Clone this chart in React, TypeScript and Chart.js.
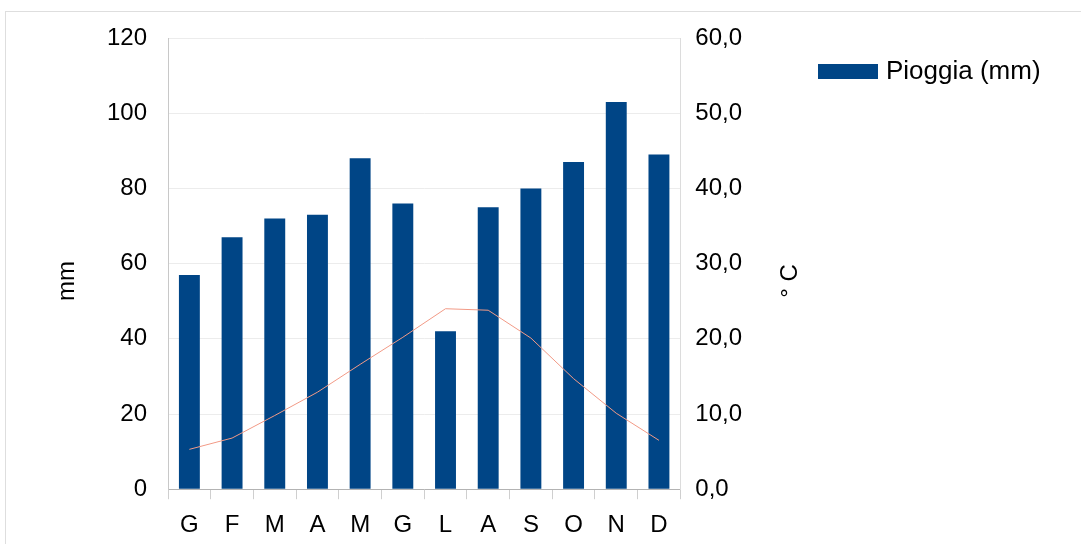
import React, { useEffect, useRef } from "react";
import { Chart, registerables } from "chart.js";

Chart.register(...registerables);

const months = ["G", "F", "M", "A", "M", "G", "L", "A", "S", "O", "N", "D"];
const rainMm = [57, 67, 72, 73, 88, 76, 42, 75, 80, 87, 103, 89];
const tempC = [5.3, 6.8, 9.8, 12.9, 16.6, 20.2, 24.0, 23.8, 20.1, 14.7, 10.1, 6.5];
const rainLabel = "Pioggia (mm)";
const tempLabel = "Temperatura (°C)";
const leftTitle = "mm";
const rightTitle = "° C";

const FONT = "'Liberation Sans', Arial, sans-serif";
const BAR_COLOR = "#004586";
const LINE_COLOR = "#f29a86";

export default function App() {
  const ref = useRef<HTMLCanvasElement | null>(null);

  useEffect(() => {
    document.body.style.margin = "0";
    document.body.style.overflow = "hidden";
    const canvas = ref.current;
    if (!canvas) return;

    const decor = {
      id: "decor",
      beforeDraw(chart: any) {
        const ctx = chart.ctx;
        ctx.save();
        ctx.strokeStyle = "#dedede";
        ctx.lineWidth = 1;
        ctx.strokeRect(5.5, 11.5, 1200, 1000);
        ctx.restore();
      },
      afterDraw(chart: any) {
        const ctx = chart.ctx;
        ctx.save();
        ctx.fillStyle = "#000";
        ctx.font = `24px ${FONT}`;
        ctx.textAlign = "center";
        ctx.textBaseline = "middle";
        const cy = 281;
        // left title
        ctx.save();
        ctx.translate(67, cy);
        ctx.rotate(-Math.PI / 2);
        ctx.fillText(leftTitle, 0, 0);
        ctx.restore();
        // right title
        ctx.save();
        ctx.translate(790, cy);
        ctx.rotate(-Math.PI / 2);
        ctx.fillText(rightTitle, 0, 0);
        ctx.restore();
        // legend
        ctx.fillStyle = BAR_COLOR;
        ctx.fillRect(818, 64, 60, 15);
        ctx.fillStyle = "#000";
        ctx.textAlign = "left";
        ctx.font = `26px ${FONT}`;
        ctx.fillText(rainLabel, 886, 72);
        ctx.restore();
      },
    };

    const chart = new Chart(canvas, {
      type: "bar",
      data: {
        labels: months,
        datasets: [
          {
            type: "line",
            label: tempLabel,
            data: tempC,
            yAxisID: "y1",
            borderColor: LINE_COLOR,
            borderWidth: 1,
            pointRadius: 0,
            tension: 0,
            order: 0,
          } as any,
          {
            type: "bar",
            label: rainLabel,
            data: rainMm,
            yAxisID: "y",
            backgroundColor: BAR_COLOR,
            barPercentage: 0.49,
            categoryPercentage: 1,
            order: 1,
          },
        ],
      },
      options: {
        animation: false,
        responsive: false,
        maintainAspectRatio: false,
        layout: { padding: { left: 86, right: 324, top: 38, bottom: -8 } },
        plugins: {
          legend: { display: false },
          tooltip: { enabled: false },
        },
        scales: {
          x: {
            offset: true,
            grid: {
              display: true,
              drawOnChartArea: false,
              drawTicks: true,
              tickLength: 10,
              color: "#cfcfcf",
              offset: true,
            },
            border: { display: true, color: "#b3b3b3" },
            ticks: { font: { size: 24, family: FONT }, color: "#000", padding: 12 },
          },
          y: {
            position: "left",
            min: 0,
            max: 120,
            ticks: { stepSize: 20, font: { size: 24, family: FONT }, color: "#000", padding: 21 },
            grid: { color: "#ececec", drawTicks: false },
            border: { display: true, color: "#c8c8c8" },
          },
          y1: {
            position: "right",
            min: 0,
            max: 60,
            ticks: {
              stepSize: 10,
              font: { size: 24, family: FONT },
              color: "#000",
              padding: 15,
              callback: (v: any) => Number(v).toFixed(1).replace(".", ","),
            },
            grid: { drawOnChartArea: false, drawTicks: false },
            border: { display: true, color: "#dcdcdc" },
          },
        },
      },
      plugins: [decor],
    });

    return () => chart.destroy();
  }, []);

  return (
    <canvas
      ref={ref}
      width={1081}
      height={544}
      style={{ position: "fixed", left: 0, top: 0, width: 1081, height: 544 }}
    />
  );
}
